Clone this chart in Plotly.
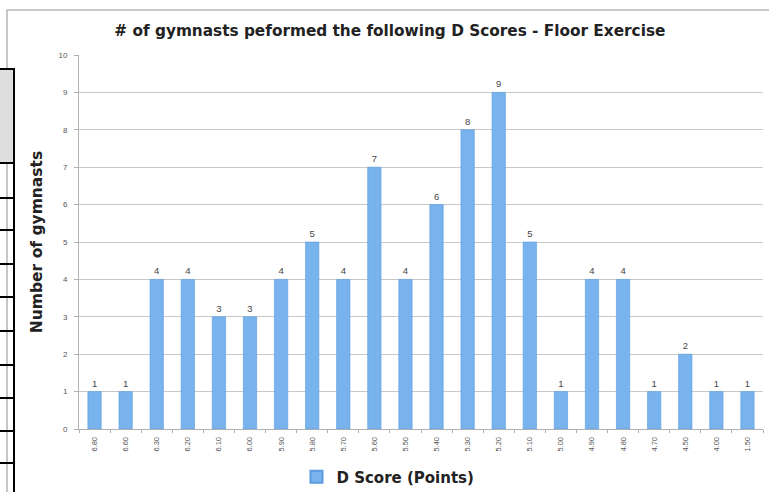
"""Bar chart: number of gymnasts per D score on floor exercise."""

import plotly.graph_objects as go

W, H = 769, 492
L, R, T, B = 79, 6, 55, 63

d_scores = ['6.80', '6.60', '6.30', '6.20', '6.10', '6.00', '5.90', '5.80',
            '5.70', '5.60', '5.50', '5.40', '5.30', '5.20', '5.10', '5.00',
            '4.90', '4.80', '4.70', '4.50', '4.00', '1.50']
gymnasts = [1, 1, 4, 4, 3, 3, 4, 5, 4, 7, 4, 6, 8, 9, 5, 1, 4, 4, 1, 2, 1, 1]

# rows of the spreadsheet grid peeking in on the left (pixel y)
sheet_rows = [163, 198, 230, 264, 297, 331, 365, 398, 431, 463]

BOLD = 'DejaVu Sans, Arial'


def px_x(x):
    return (x - L) / (W - L - R)


def px_y(y):
    return (H - B - y) / (H - T - B)


fig = go.Figure(go.Bar(
    x=d_scores, y=gymnasts, name='<b>D Score (Points)</b>',
    marker=dict(color='#78b3ee', line=dict(width=0.6, color='#5a9be0')),
    text=gymnasts, textposition='outside', cliponaxis=False,
    textfont=dict(size=9.5, color='#444444', family='Liberation Sans, Arial'),
))

shapes = [
    # chart frame
    dict(type='rect', xref='paper', yref='paper', x0=px_x(7), x1=px_x(772),
         y0=px_y(10), y1=px_y(498), line=dict(color='#b5b5b5', width=1.5)),
    # spreadsheet header cell
    dict(type='rect', xref='paper', yref='paper', x0=px_x(-5), x1=px_x(14),
         y0=px_y(69), y1=px_y(163), fillcolor='#dedede',
         line=dict(color='black', width=2)),
    dict(type='line', xref='paper', yref='paper', x0=px_x(14), x1=px_x(14),
         y0=px_y(163), y1=px_y(498), line=dict(color='black', width=2)),
]
for y in sheet_rows:
    shapes.append(dict(type='line', xref='paper', yref='paper',
                       x0=px_x(-5), x1=px_x(14), y0=px_y(y), y1=px_y(y),
                       line=dict(color='black', width=2)))

fig.update_layout(
    width=W, height=H,
    margin=dict(l=L, r=R, t=T, b=B, autoexpand=False),
    paper_bgcolor='white', plot_bgcolor='white',
    font=dict(family='Liberation Sans, Arial', color='#333333'),
    bargap=0.57,
    showlegend=True,
    title=dict(text='<b># of gymnasts peformed the following D Scores - Floor Exercise</b>',
               x=0.507, xanchor='center', y=1 - 31 / H, yanchor='middle',
               font=dict(size=15.3, color='#222222', family=BOLD)),
    legend=dict(orientation='h', x=px_x(388), xanchor='center',
                y=px_y(477), yanchor='middle',
                font=dict(size=15, color='#222222', family=BOLD),
                itemwidth=30, itemsizing='constant'),
    shapes=shapes,
)
fig.update_xaxes(
    type='category', tickangle=-90, tickfont=dict(size=7.5, color='#555555'),
    ticks='outside', tickson='boundaries', ticklen=3, tickcolor='#b0b0b0',
    ticklabelstandoff=4,
    showline=True, linecolor='#b0b0b0', linewidth=1, showgrid=False,
    automargin=False,
)
fig.update_yaxes(
    range=[0, 10], dtick=1, tickfont=dict(size=8, color='#555555'),
    ticks='outside', ticklen=4, tickcolor='#b0b0b0', ticklabelstandoff=5,
    showline=True, linecolor='#b0b0b0', linewidth=1,
    showgrid=True, gridcolor='#c8c8c8', gridwidth=1, zeroline=False,
    automargin=False,
    title=dict(text='<b>Number of gymnasts</b>', standoff=12,
               font=dict(size=15.5, color='#222222', family=BOLD)),
)

# page has a default 8px body margin; drop it so the figure fills the window
fig.write_html("out.html", config={'displayModeBar': False},
               post_script="document.body.style.margin='0px';")
